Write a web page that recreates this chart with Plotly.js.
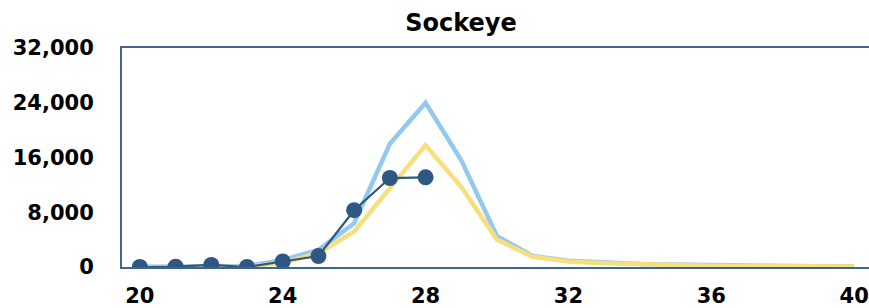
<!DOCTYPE html>
<html>
<head>
<meta charset="utf-8">
<script src="https://cdn.plot.ly/plotly-3.0.1.min.js"></script>
<style>
html,body{margin:0;padding:0;overflow:hidden;background:#fff;}
#chart{width:875px;height:308px;}
</style>
</head>
<body>
<div id="chart"></div>
<script>
const weeks = [20,21,22,23,24,25,26,27,28,29,30,31,32,33,34,35,36,37,38,39,40];
const blueSeries = [50,100,250,150,1000,2500,6400,18000,24000,15600,4500,1600,900,600,450,350,250,200,150,100,80];
const yellowSeries = [0,50,150,50,600,2000,5200,11500,17800,11700,4000,1500,800,550,400,300,200,150,100,80,60];
const currentWeeks = [20,21,22,23,24,25,26,27,28];
const currentSeries = [0,50,300,0,800,1600,8300,13000,13100];
const yTicks = [0,8000,16000,24000,32000];
const xTicks = [20,24,28,32,36,40];
const chartTitle = "Sockeye";

const axisColor = "#41638F";
const tickFont = {family:"DejaVu Sans", size:21, color:"#000", weight:"bold"};

const traces = [
  {x:weeks, y:blueSeries, type:"scatter", mode:"lines",
   line:{color:"#93C9EE", width:4.5}, hoverinfo:"skip"},
  {x:weeks, y:yellowSeries, type:"scatter", mode:"lines",
   line:{color:"#F8DF7E", width:4.5}, hoverinfo:"skip"},
  {x:currentWeeks, y:currentSeries, type:"scatter", mode:"lines+markers",
   line:{color:"#2E5783", width:2.2},
   marker:{color:"#2E5783", size:16}, hoverinfo:"skip"}
];

const layout = {
  width:875, height:308,
  margin:{l:122, r:3, t:48, b:41},
  paper_bgcolor:"#fff", plot_bgcolor:"#fff",
  showlegend:false,
  title:{text:chartTitle, font:{family:"DejaVu Sans", size:24, color:"#000", weight:"bold"},
         xref:"container", x:461/875, xanchor:"center",
         yref:"container", y:1-23/308, yanchor:"middle"},
  xaxis:{range:[19.5,40.5], tickvals:xTicks, ticktext:xTicks.map(String),
         showgrid:false, zeroline:false, showline:true, linecolor:axisColor, linewidth:2,
         mirror:true, ticks:"", ticklabelstandoff:9, tickfont:tickFont},
  yaxis:{range:[0,32000], tickvals:yTicks, ticktext:yTicks.map(v=>v.toLocaleString("en-US")),
         showgrid:false, zeroline:false, showline:true, linecolor:axisColor, linewidth:2,
         mirror:true, ticks:"", ticklabelstandoff:22, tickfont:tickFont}
};

Plotly.newPlot("chart", traces, layout, {displayModeBar:false, staticPlot:true});
</script>
</body>
</html>
